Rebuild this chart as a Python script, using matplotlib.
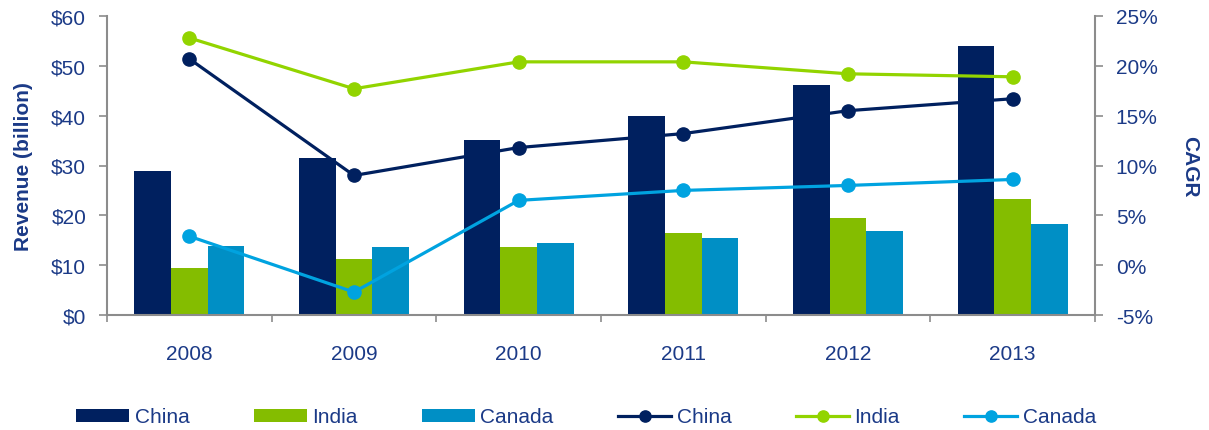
import matplotlib
matplotlib.use("Agg")
import matplotlib.pyplot as plt
import numpy as np
from matplotlib.ticker import FixedLocator

plt.rcParams['font.family'] = ['Liberation Sans', 'DejaVu Sans']

years = ['2008', '2009', '2010', '2011', '2012', '2013']
rev_china = [28.9, 31.5, 35.2, 40.0, 46.2, 53.9]
rev_india = [9.5, 11.2, 13.6, 16.4, 19.4, 23.3]
rev_canada = [13.9, 13.6, 14.5, 15.5, 16.8, 18.2]
cagr_china = [20.7, 9.0, 11.8, 13.2, 15.5, 16.7]
cagr_india = [22.8, 17.7, 20.4, 20.4, 19.2, 18.9]
cagr_canada = [2.9, -2.7, 6.5, 7.5, 8.0, 8.6]

navy = '#00205F'
green_bar = '#84BD00'
blue_bar = '#008FC5'
green_line = '#92D400'
blue_line = '#00A3E0'
text_c = '#1B3A87'
spine_c = '#8C8C8C'
fs = 15

fig = plt.figure(figsize=(12.09, 4.31), dpi=100)
ax = fig.add_axes([107/1209, 1-316/431, (1095-107)/1209, (316-17)/431])
ax2 = ax.twinx()

x = np.arange(len(years))
w = 0.223
b1 = ax.bar(x - w, rev_china, w, color=navy, label='China', zorder=2)
b2 = ax.bar(x, rev_india, w, color=green_bar, label='India', zorder=2)
b3 = ax.bar(x + w, rev_canada, w, color=blue_bar, label='Canada', zorder=2)

l1, = ax2.plot(x, cagr_china, color=navy, lw=2.3, marker='o', ms=9.5, label='China')
l2, = ax2.plot(x, cagr_india, color=green_line, lw=2.3, marker='o', ms=9.5, label='India')
l3, = ax2.plot(x, cagr_canada, color=blue_line, lw=2.3, marker='o', ms=9.5, label='Canada')

ax.set_xlim(-0.5, len(years) - 0.5)
ax.set_ylim(0, 60)
ax2.set_ylim(-5, 25)
ax.set_yticks(range(0, 61, 10))
ax.set_yticklabels(['$%d' % v for v in range(0, 61, 10)])
ax2.set_yticks(range(-5, 26, 5))
ax2.set_yticklabels(['%d%%' % v for v in range(-5, 26, 5)])

ax.set_xticks(x)
ax.set_xticklabels(years)
ax.xaxis.set_minor_locator(FixedLocator(np.arange(-0.5, len(years), 1.0)))
ax.tick_params(axis='x', which='major', length=0, pad=21, labelsize=fs, labelcolor=text_c)
ax.tick_params(axis='x', which='minor', length=5, width=1.2, color=spine_c, direction='out')
ax.tick_params(axis='y', length=6, width=1.2, color=spine_c, labelsize=fs, labelcolor=text_c, pad=9)
ax2.tick_params(axis='y', length=6, width=1.2, color=spine_c, labelsize=fs, labelcolor=text_c, pad=9)

for a in (ax, ax2):
    a.spines['top'].set_visible(False)
    for s in ('left', 'right', 'bottom'):
        a.spines[s].set_color(spine_c)
        a.spines[s].set_linewidth(1.5)
ax.spines['right'].set_visible(False)
ax2.spines['left'].set_visible(False)
ax2.spines['bottom'].set_visible(False)

ax.set_ylabel('Revenue (billion)', fontsize=fs, fontweight='bold', color=text_c, labelpad=13)
ax2.set_ylabel('CAGR', fontsize=fs, fontweight='bold', color=text_c, rotation=270, labelpad=30)

fig.legend([b1, b2, b3, l1, l2, l3], ['China', 'India', 'Canada', 'China', 'India', 'Canada'],
           loc='center', bbox_to_anchor=(586/1209, 1-418/431), ncol=6, frameon=False,
           fontsize=fs, labelcolor=text_c, handlelength=2.55, handleheight=0.6,
           columnspacing=3.1, handletextpad=0.25, markerscale=0.85)

fig.savefig('out.png', dpi=100)
